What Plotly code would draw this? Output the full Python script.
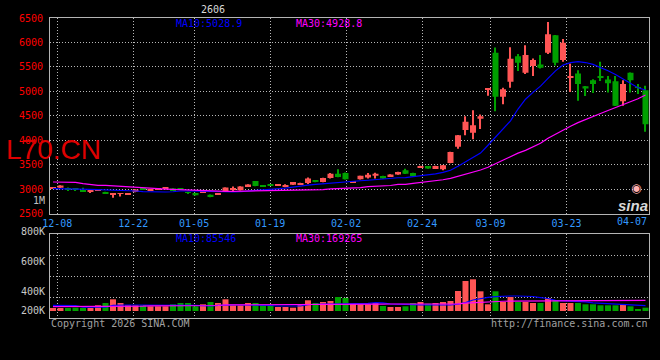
import plotly.graph_objects as go

# ---------------- data ----------------
dates = [
    "12-05", "12-08", "12-09", "12-10", "12-11", "12-12", "12-15", "12-16", "12-17", "12-18", "12-19",
    "12-22", "12-23", "12-24", "12-25", "12-26", "12-29", "12-30", "12-31",
    "01-05", "01-06", "01-07", "01-08", "01-09", "01-12", "01-13", "01-14", "01-15", "01-16",
    "01-19", "01-20", "01-21", "01-22", "01-23", "01-26", "01-27", "01-28", "01-29", "01-30",
    "02-02", "02-03", "02-04", "02-05", "02-06", "02-09", "02-10", "02-11", "02-12", "02-13",
    "02-24", "02-25", "02-26", "02-27",
    "03-02", "03-03", "03-04", "03-05", "03-06", "03-09", "03-10", "03-11", "03-12", "03-13",
    "03-16", "03-17", "03-18", "03-19", "03-20", "03-23", "03-24", "03-25", "03-26", "03-27",
    "03-30", "03-31", "04-01", "04-02", "04-03", "04-07", "04-08",
]

opens = [3025, 3030, 3005, 3010, 2985, 2970, 2990, 2945, 2890, 2910, 2893,
         2945, 3015, 2990, 2995, 3025, 3015, 3012, 2945,
         2925, 2940, 2890, 2890, 2960, 3010, 2980, 3060, 3170, 3065,
         3085, 3078, 3072, 3095, 3095, 3130, 3185, 3150, 3230, 3320,
         3335, 3135, 3205, 3240, 3275, 3270, 3265, 3305, 3390, 3335,
         3440, 3475, 3435, 3410,
         3540, 3870, 4210, 4155, 4440, 5040, 5790, 4890, 5200, 5720,
         5380, 5520, 5550, 5790, 6150, 5640, 5290, 5365, 5105, 5230,
         5305, 5245, 5210, 4800, 5380, 5085, 5025]
highs = [3042, 3085, 3035, 3015, 3030, 2982, 3000, 2950, 2925, 2922, 2902,
         3000, 3018, 3005, 3010, 3040, 3020, 3020, 2948,
         2930, 2955, 2895, 2925, 3038, 3060, 3062, 3105, 3172, 3070,
         3088, 3088, 3102, 3152, 3132, 3240, 3188, 3235, 3335, 3410,
         3345, 3170, 3278, 3335, 3340, 3275, 3310, 3358, 3420, 3340,
         3480, 3478, 3480, 3495,
         3768, 4110, 4495, 4615, 4530, 5052, 5895, 5075, 5905, 5765,
         5945, 5675, 5745, 6420, 6155, 6070, 5570, 5435, 5110, 5250,
         5605, 5315, 5315, 5230, 5385, 5150, 5115]
lows = [3020, 3025, 2965, 2965, 2950, 2925, 2985, 2905, 2830, 2855, 2890,
        2940, 2990, 2985, 2990, 3020, 2980, 3000, 2920,
        2875, 2935, 2838, 2885, 2955, 2965, 2975, 3055, 3065, 3050,
        3075, 3075, 3040, 3090, 3090, 3110, 3145, 3145, 3220, 3245,
        3200, 3130, 3200, 3220, 3220, 3215, 3260, 3300, 3315, 3260,
        3435, 3420, 3430, 3390,
        3535, 3830, 4105, 4025, 4230, 4910, 4595, 4740, 5075, 5415,
        5355, 5315, 5470, 5765, 5530, 5605, 4990, 4810, 4905, 4970,
        5215, 4980, 4700, 4705, 4980, 4945, 4175]
closes = [3038, 3080, 2995, 2990, 2955, 2980, 2995, 2910, 2900, 2920, 2900,
          2995, 2995, 2998, 3005, 3035, 2985, 3005, 2925,
          2878, 2950, 2843, 2922, 3035, 3018, 3060, 3100, 3070, 3055,
          3078, 3085, 3078, 3150, 3130, 3220, 3150, 3230, 3320, 3250,
          3205, 3165, 3275, 3300, 3320, 3220, 3305, 3355, 3320, 3265,
          3475, 3425, 3475, 3490,
          3765, 4105, 4380, 4310, 4495, 5050, 4890, 5045, 5665, 5585,
          5745, 5640, 5485, 6170, 5585, 5995, 5310, 5150, 5060, 5150,
          5290, 5165, 4705, 5150, 5230, 5075, 4330]

ma10 = [3013, 3013, 3013, 3010, 2999, 2999, 2993, 2990, 2985, 2980, 2975, 2966, 2955, 2948, 2945,
        2945, 2950, 2966, 2966, 2960, 2955, 2948, 2945, 2945, 2945, 2950, 2970, 2980, 2990, 2997,
        3005, 3025, 3045, 3058, 3085, 3100, 3115, 3130, 3142, 3150, 3160, 3175, 3185, 3200, 3215,
        3222, 3236, 3240, 3255, 3275, 3300, 3315, 3345, 3390, 3470, 3560, 3640, 3740, 3900, 4060,
        4240, 4400, 4640, 4840, 4980, 5108, 5266, 5420, 5538, 5588, 5610, 5590, 5552, 5496, 5424,
        5345, 5250, 5155, 5075, 5028.9]
ma30 = [3150, 3150, 3150, 3140, 3116, 3100, 3082, 3082, 3070, 3061, 3055, 3034, 3034, 3013, 3013,
        3005, 2999, 2995, 2980, 2970, 2962, 2959, 2959, 2959, 2959, 2962, 2970, 2972, 2975, 2979,
        2979, 2979, 2979, 2979, 2982, 2993, 2995, 3010, 3013, 3030, 3034, 3036, 3055, 3058, 3072,
        3078, 3100, 3102, 3122, 3140, 3155, 3168, 3195, 3225, 3265, 3310, 3350, 3395, 3450, 3520,
        3595, 3675, 3740, 3795, 3870, 3940, 4045, 4130, 4215, 4287, 4363, 4430, 4494, 4550, 4610,
        4670, 4730, 4785, 4850, 4928.8]

volumes = [48000, 48000, 48000, 53000, 48000, 48000, 91000, 128000, 187000, 128000, 91000,
           91000, 91000, 75000, 75000, 75000, 107000, 128000, 128000,
           75000, 107000, 144000, 128000, 187000, 91000, 91000, 128000, 128000, 91000,
           91000, 64000, 64000, 53000, 107000, 171000, 128000, 144000, 160000, 224000,
           208000, 117000, 107000, 107000, 128000, 80000, 64000, 64000, 75000, 128000,
           144000, 117000, 128000, 144000,
           160000, 320000, 480000, 507000, 315000, 107000, 315000, 144000, 224000, 144000,
           144000, 128000, 128000, 208000, 171000, 128000, 128000, 128000, 107000, 107000,
           91000, 91000, 91000, 107000, 75000, 27000, 53000]
vol_ma10 = [91000, 91000, 91000, 88000, 62000, 59000, 59000, 60000, 90000, 96000, 96000, 96000,
            94000, 91000, 91000, 91000, 91000, 91000, 91000, 91000, 85000, 80000, 90000, 96000,
            96000, 96000, 96000, 96000, 96000, 88000, 80000, 80000, 80000, 80000, 100000, 112000,
            112000, 112000, 112000, 118000, 123000, 123000, 123000, 135000, 130000, 112000, 105000,
            101000, 101000, 98000, 96000, 96000, 96000, 96000, 110000, 135000, 176000, 203000,
            219000, 230000, 240000, 240000, 240000, 240000, 232000, 215000, 200000, 170000, 165000,
            160000, 149000, 145000, 130000, 123000, 118000, 112000, 110000, 95000, 86000, 85546]
vol_ma30 = [69000, 69000, 69000, 69000, 69000, 69000, 69000, 69000, 78000, 78000, 78000, 78000,
            78000, 82000, 82000, 82000, 82000, 82000, 82000, 82000, 82000, 88000, 88000, 98000,
            98000, 98000, 98000, 98000, 98000, 98000, 98000, 103000, 103000, 103000, 103000,
            103000, 103000, 103000, 103000, 110000, 110000, 110000, 110000, 110000, 110000,
            112000, 112000, 112000, 112000, 112000, 112000, 110000, 110000, 110000, 115000,
            125000, 133000, 135000, 145000, 152000, 156000, 158000, 159000, 160000, 160000,
            161000, 161000, 162000, 162000, 163000, 164000, 164000, 165000, 166000, 166000,
            167000, 167000, 168000, 168000, 169265]

tick_dates = ["12-08", "12-22", "01-05", "01-19", "02-02", "02-24", "03-09", "03-23"]
last_label = "04-07"
price_ticks = [2500, 3000, 3500, 4000, 4500, 5000, 5500, 6000, 6500]
vol_labels = ["800K", "600K", "400K", "200K"]

# ---------------- styling / layout geometry ----------------
W, H = 660, 360
L_PX, R_PX, T_PX, B_PX = 50, 649, 18, 318
PW, PH = R_PX - L_PX, B_PX - T_PX
STEP = 7.5          # candle step in px
X0 = 53             # px of first candle centre
GRID_STEP = 7.6     # Sina date-grid step (px per trading day)
GRID_X0 = 57.3      # px of first labelled grid line

RED, GREEN = "#ff5555", "#00a000"
BLUE, MAG = "#0000ff", "#ff00ff"
GRID, BORDER = "#b8b8b8", "#b4b4b4"
MONO = "DejaVu Sans Mono"


def xp(px):
    return (px - L_PX) / PW


def yp(py):
    return (B_PX - py) / PH


idx = list(range(len(dates)))
up = [c >= o for o, c in zip(opens, closes)]
colors = [RED if u else GREEN for u in up]
MIN_BODY = 20
body_h = [max(abs(c - o), MIN_BODY) for o, c in zip(opens, closes)]
body_base = [(o + c) / 2 - h / 2 for o, c, h in zip(opens, closes, body_h)]
wick_h = [h - l for h, l in zip(highs, lows)]

tick_idx = [dates.index(d) for d in tick_dates]
tick_x = [(GRID_X0 + GRID_STEP * (d - 1) - X0) / STEP for d in tick_idx]
x_range = [(L_PX - X0) / STEP, (R_PX - X0) / STEP]

# volume axis: 16000 per px, zero at y=311
VPP = 16000
vmin, vmax = -(B_PX - 311) * VPP, (311 - 234) * VPP
vgrid = [vmin + (vmax - vmin) * f for f in (0.25, 0.5, 0.75)]

fig = go.Figure()
fig.add_trace(go.Bar(x=idx, y=wick_h, base=lows, width=0.14, marker=dict(color=colors, line_width=0),
                     xaxis="x", yaxis="y", hoverinfo="skip"))
fig.add_trace(go.Bar(x=idx, y=body_h, base=body_base, width=0.8, marker=dict(color=colors, line_width=0),
                     xaxis="x", yaxis="y", customdata=list(zip(dates, opens, highs, lows, closes)),
                     hovertemplate="%{customdata[0]}<br>O %{customdata[1]} H %{customdata[2]}"
                                   "<br>L %{customdata[3]} C %{customdata[4]}<extra></extra>"))
fig.add_trace(go.Scatter(x=idx, y=ma10, mode="lines", line=dict(color=BLUE, width=1.2),
                         xaxis="x", yaxis="y", hoverinfo="skip"))
fig.add_trace(go.Scatter(x=idx, y=ma30, mode="lines", line=dict(color=MAG, width=1.2),
                         xaxis="x", yaxis="y", hoverinfo="skip"))

fig.add_trace(go.Bar(x=idx, y=volumes, width=0.8, marker=dict(color=colors, line_width=0),
                     xaxis="x2", yaxis="y2", hoverinfo="skip"))
fig.add_trace(go.Scatter(x=idx, y=vol_ma10, mode="lines", line=dict(color=BLUE, width=1.2),
                         xaxis="x2", yaxis="y2", hoverinfo="skip"))
fig.add_trace(go.Scatter(x=idx, y=vol_ma30, mode="lines", line=dict(color=MAG, width=1.2),
                         xaxis="x2", yaxis="y2", hoverinfo="skip"))

grid_common = dict(showgrid=True, gridcolor=GRID, gridwidth=1, griddash="1px,2px", zeroline=False,
                   showline=True, linecolor=BORDER, linewidth=1, mirror=True)

fig.update_layout(
    width=W, height=H, margin=dict(l=L_PX, r=W - R_PX, t=T_PX, b=H - B_PX),
    paper_bgcolor="black", plot_bgcolor="black", showlegend=False, barmode="overlay",
    font=dict(family=MONO, size=10, color="#c0c0c0"),
    xaxis=dict(domain=[0, 1], range=x_range, tickmode="array", tickvals=tick_x, ticktext=tick_dates,
               tickfont=dict(family=MONO, size=10, color="#3399ff"), ticks="", anchor="y",
               rangeslider=dict(visible=False), **grid_common),
    xaxis2=dict(domain=[0, 1], range=x_range, matches="x", tickmode="array", tickvals=tick_x,
                showticklabels=False, ticks="", anchor="y2", **grid_common),
    yaxis=dict(domain=[yp(213.8), 1.0], range=[price_ticks[0], price_ticks[-1]], tickmode="array",
               tickvals=price_ticks, tickfont=dict(family=MONO, size=10, color="#ff0000"),
               ticks="", ticklabelstandoff=4, anchor="x", **grid_common),
    yaxis2=dict(domain=[0, yp(234)], range=[vmin, vmax], tickmode="array", tickvals=vgrid,
                showticklabels=False, ticks="", anchor="x2", **grid_common),
)


def ann(text, px, py, color, size=10, xanchor="left", family=MONO, **kw):
    fig.add_annotation(text=text, x=xp(px), y=yp(py), xref="paper", yref="paper", showarrow=False,
                       xanchor=xanchor, yanchor="middle", font=dict(family=family, size=size, color=color),
                       **kw)


ann("2606", 213, 9.5, "#d8d8d8", xanchor="center")
ann("MA10:5028.9", 174, 23.5, BLUE)
ann("MA30:4928.8", 294, 23.5, MAG)
ann("MA10:85546", 174, 238.5, BLUE)
ann("MA30:169265", 294, 238.5, MAG)
ann("L70.CN", 4, 149.5, "#dd0000", size=28, family="Liberation Sans")
ann("1M", 47, 200, "#c0c0c0", xanchor="right")
for lab, py in zip(vol_labels, [231, 261, 291, 310]):
    ann(lab, 47, py, "#c8c8c8", xanchor="right")
ann(last_label, 649, 221.5, "#3399ff", xanchor="right")
ann("Copyright 2026 SINA.COM", 49, 323.5, "#a0a0a0")
ann("http://finance.sina.com.cn", 650, 323.5, "#a0a0a0", xanchor="right")
ann("<b><i>sina</i></b>", 633, 205, "#d8d8d8", size=15, xanchor="center", family="Liberation Sans")
ann("◉", 636, 188, "#ffb0b0", size=12, xanchor="center", family="DejaVu Sans")

fig.write_html("out.html", config={"displayModeBar": False},
               post_script="document.body.style.margin='0';"
                           "document.documentElement.style.background='black';")
